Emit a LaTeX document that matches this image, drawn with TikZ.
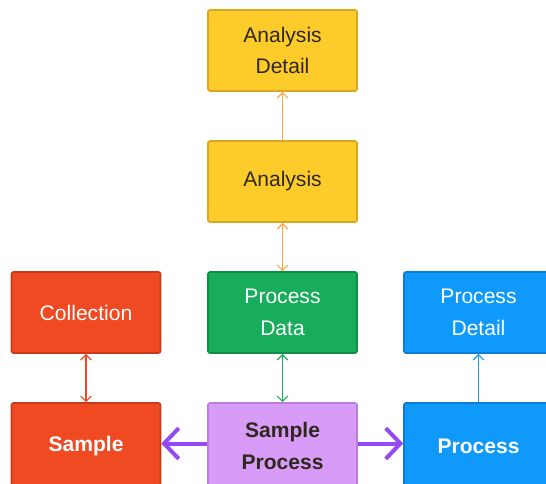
\documentclass[tikz,border=0pt]{standalone}
\usepackage{fontspec}
\setmainfont{Liberation Sans}
\usetikzlibrary{arrows.meta}

\definecolor{yelFill}{RGB}{253,203,42}
\definecolor{yelLine}{RGB}{214,167,36}
\definecolor{yelArrow}{RGB}{250,167,60}
\definecolor{redFill}{RGB}{240,74,35}
\definecolor{redLine}{RGB}{200,58,28}
\definecolor{grnFill}{RGB}{23,173,90}
\definecolor{grnLine}{RGB}{18,138,72}
\definecolor{bluFill}{RGB}{15,153,250}
\definecolor{bluLine}{RGB}{12,125,210}
\definecolor{purFill}{RGB}{216,155,248}
\definecolor{purLine}{RGB}{185,127,214}
\definecolor{purArrow}{RGB}{149,73,245}
\definecolor{darkText}{RGB}{46,40,30}

\tikzset{every picture/.style={line width=0.75pt}}
\tikzset{
  box/.style={draw, rounded corners=1.5pt, line width=1.2pt, minimum width=111.75pt, minimum height=60.75pt,
    align=center, inner sep=0pt, font=\fontsize{15.8}{23.5}\selectfont},
  yelbox/.style={box, fill=yelFill, draw=yelLine, text=darkText},
  redbox/.style={box, fill=redFill, draw=redLine, text=white},
  grnbox/.style={box, fill=grnFill, draw=grnLine, text=white},
  blubox/.style={box, fill=bluFill, draw=bluLine, text=white},
  purbox/.style={box, fill=purFill, draw=purLine, text=darkText},
  lowbox/.style={minimum height=64.5pt, font=\fontsize{15.8}{23.5}\selectfont\bfseries},
  thin/.style={line width=0.9pt, arrows={<->}, >={Straight Barb[length=4pt,width=8pt]}},
  thick/.style={line width=3pt, purArrow, -{Straight Barb[length=11pt,width=23pt,line width=3pt]}}
}

\begin{document}
\begin{tikzpicture}[x=0.75pt,y=0.75pt,yscale=-1,xscale=1]
	\useasboundingbox (0,0) rectangle (546,483);

	% Boxes
	\node [yelbox] (adetail) at (282.5,50.5) {Analysis\\Detail};
	\node [yelbox] (analysis) at (282.5,181.5) {Analysis};
	\node [redbox] (collection) at (86,312.5) {Collection};
	\node [grnbox] (pdata) at (282.5,312.5) {Process\\Data};
	\node [blubox] (pdetail) at (478.5,312.5) {Process\\Detail};
	\node [redbox, lowbox] (sample) at (86,446) {Sample};
	\node [purbox, lowbox] (sproc) at (282.5,446) {Sample\\Process};
	\node [blubox, lowbox] (process) at (478.5,446) {Process};

	% Connectors
	\draw [thin, yelArrow, arrows={-{Straight Barb[length=4pt,width=8pt]}}] (analysis) -- (adetail);
	\draw [thin, yelArrow] (analysis) -- (pdata);
	\draw [thin, redFill] (collection) -- (sample);
	\draw [thin, grnFill] (pdata) -- (sproc);
	\draw [thin, bluFill, arrows={-{Straight Barb[length=4pt,width=8pt]}}] (process) -- (pdetail);
	\draw [thick] (sproc.west |- 0,443.5) -- (sample.east |- 0,443.5);
	\draw [thick] (sproc.east |- 0,443.5) -- (process.west |- 0,443.5);

\end{tikzpicture}
\end{document}
